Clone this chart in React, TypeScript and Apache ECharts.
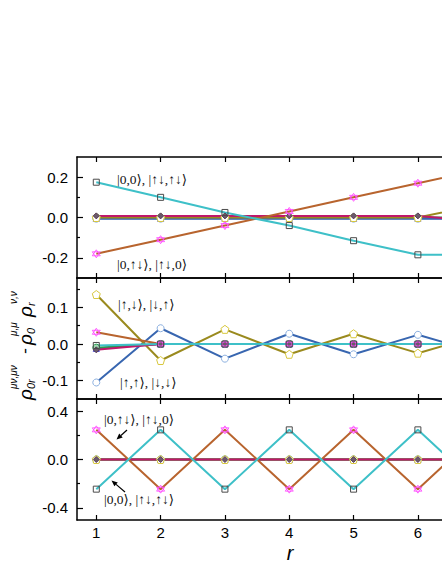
import React, { useEffect, useRef } from "react";
import * as echarts from "echarts";

// ---------- data ----------
const rValues = [1, 2, 3, 4, 5, 6, 7];
const xTicks = [1, 2, 3, 4, 5, 6, 7];
const xTickLabels = [1, 2, 3, 4, 5, 6];

// panel 1 (top)
const p1Cyan = [0.175, 0.1, 0.025, -0.04, -0.115, -0.185, -0.185];
const p1Brown = [-0.18, -0.11, -0.04, 0.03, 0.1, 0.17, 0.24];
const p1Olive = [0, 0, 0, 0, 0, 0, 0.065];
const p1Blue = [-0.006, -0.006, -0.006, -0.006, -0.006, -0.006, -0.006];
const p1Crimson = [0.008, 0.008, 0.008, 0.008, 0.008, 0.008, -0.02];
const p1Green = [0, 0, 0, 0, 0, 0, 0];
const p1Steel = [-0.004, -0.004, -0.004, -0.004, -0.004, -0.004, -0.004];

// panel 2 (middle)
const p2Cyan = [-0.004, 0, 0, 0, 0, 0, 0];
const p2Brown = [0.032, 0, 0, 0, 0, 0, 0];
const p2Olive = [0.135, -0.045, 0.04, -0.028, 0.028, -0.025, 0.025];
const p2Blue = [-0.105, 0.043, -0.04, 0.028, -0.028, 0.025, -0.025];
const p2Crimson = [-0.016, 0, 0, 0, 0, 0, 0];
const p2Green = [-0.01, 0, 0, 0, 0, 0, 0];
const p2Steel = [-0.012, 0, 0, 0, 0, 0, 0];

// panel 3 (bottom)
const p3Cyan = [-0.245, 0.245, -0.245, 0.245, -0.245, 0.245, -0.245];
const p3Brown = [0.245, -0.245, 0.245, -0.245, 0.245, -0.245, 0.245];
const p3Olive = [0, 0, 0, 0, 0, 0, 0];
const p3Blue = [0, 0, 0, 0, 0, 0, 0];
const p3Crimson = [0, 0, 0, 0, 0, 0, 0];
const p3Green = [0, 0, 0, 0, 0, 0, 0];
const p3Steel = [0, 0, 0, 0, 0, 0, 0];

const yRanges = [
  { min: -0.3, max: 0.3, major: [-0.2, 0, 0.2], minor: [-0.1, 0.1] },
  { min: -0.15, max: 0.18, major: [-0.1, 0, 0.1], minor: [-0.05, 0.05, 0.15] },
  { min: -0.5, max: 0.5, major: [-0.4, 0, 0.4], minor: [-0.2, 0.2] },
];

const labels = [
  { text: "|0,0⟩, |↑↓,↑↓⟩", x: 117, y: 179 },
  { text: "|0,↑↓⟩, |↑↓,0⟩", x: 117, y: 264 },
  { text: "|↑,↓⟩, |↓,↑⟩", x: 118, y: 304 },
  { text: "|↑,↑⟩, |↓,↓⟩", x: 120, y: 382 },
  { text: "|0,↑↓⟩, |↑↓,0⟩", x: 104, y: 419 },
  { text: "|0,0⟩, |↑↓,↑↓⟩", x: 104, y: 499 },
];

// ---------- styles ----------
const STAR = "path://M0,-10L8.66,5L-8.66,5Z M0,10L8.66,-5L-8.66,-5Z";
const PENTA = "path://M0,-10L9.51,-3.09L5.88,8.09L-5.88,8.09L-9.51,-3.09Z";

const styles = {
  steel: { color: "#4f6fb8", symbol: "triangle", size: 6, border: "#3a3ad8", fill: "rgba(255,255,255,0)" },
  green: { color: "#2a9a52", symbol: "circle", size: 7, border: "#2a9a52", fill: "#9fd8b0" },
  crimson: { color: "#c0186a", symbol: "diamond", size: 6, border: "#5a3a5a", fill: "#6a5a6a" },
  blue: { color: "#3866b0", symbol: "circle", size: 7, border: "#8cb0e0", fill: "#ffffff" },
  olive: { color: "#9a8a1e", symbol: PENTA, size: 8, border: "#d8c83e", fill: "#ffffff" },
  brown: { color: "#b8642e", symbol: STAR, size: 8, border: "#ff3cff", fill: "rgba(255,235,255,0.5)" },
  cyan: { color: "#3ec0c8", symbol: "rect", size: 6, border: "#4a4a4a", fill: "rgba(255,255,255,0)" },
};

const panels = [
  { steel: p1Steel, green: p1Green, crimson: p1Crimson, blue: p1Blue, olive: p1Olive, brown: p1Brown, cyan: p1Cyan },
  { steel: p2Steel, green: p2Green, crimson: p2Crimson, blue: p2Blue, olive: p2Olive, brown: p2Brown, cyan: p2Cyan },
  { steel: p3Steel, green: p3Green, crimson: p3Crimson, blue: p3Blue, olive: p3Olive, brown: p3Brown, cyan: p3Cyan },
];
const order = ["steel", "green", "blue", "olive", "crimson", "brown", "cyan"];

function arrow(x1: number, y1: number, x2: number, y2: number) {
  const dx = x2 - x1, dy = y2 - y1;
  const L = Math.hypot(dx, dy);
  const ux = dx / L, uy = dy / L;
  const hl = 6, hw = 2.6;
  const bx = x2 - ux * hl, by = y2 - uy * hl;
  return [
    { type: "line", shape: { x1, y1, x2: bx, y2: by }, style: { stroke: "#000", lineWidth: 1.2 } },
    {
      type: "polygon",
      shape: { points: [[x2, y2], [bx - uy * hw, by + ux * hw], [bx + uy * hw, by - ux * hw]] },
      style: { fill: "#000" },
    },
  ];
}

export default function App() {
  const ref = useRef<HTMLDivElement>(null);
  useEffect(() => {
    if (!ref.current) return;
    const chart = echarts.init(ref.current, null, { renderer: "svg" });
    const gridTops = [157, 278, 399];
    const grid = gridTops.map((t) => ({
      left: 77, top: t, width: 424.5, height: 121, containLabel: false, outerBoundsMode: "none",
    }));
    const axisLine = { show: true, onZero: false, lineStyle: { color: "#000", width: 1.5 } };
    const tickLine = { color: "#000", width: 1.2 };
    const labelFont = { color: "#000", fontSize: 15, fontFamily: "Liberation Sans, Arial, sans-serif" };

    const xAxis: any[] = [];
    const yAxis: any[] = [];
    gridTops.forEach((_, i) => {
      xAxis.push({
        type: "value", gridIndex: i, min: 0.7, max: 7.3, position: "bottom",
        axisLine, splitLine: { show: false },
        axisTick: { show: true, inside: true, length: 5, customValues: xTicks, lineStyle: tickLine },
        axisLabel: { show: i === 2, customValues: xTickLabels, margin: 5, ...labelFont },
      });
      xAxis.push({
        type: "value", gridIndex: i, min: 0.7, max: 7.3, position: "top",
        axisLine, splitLine: { show: false },
        axisTick: { show: true, inside: true, length: 5, customValues: xTicks, lineStyle: tickLine },
        axisLabel: { show: false },
      });
      const yr = yRanges[i];
      yAxis.push({
        type: "value", gridIndex: i, min: yr.min, max: yr.max, position: "left",
        axisLine, splitLine: { show: false },
        axisTick: { show: true, inside: true, length: 6, customValues: yr.major, lineStyle: tickLine },
        axisLabel: { show: true, customValues: yr.major, margin: 9, formatter: (v: number) => v.toFixed(1), ...labelFont },
      });
      yAxis.push({
        type: "value", gridIndex: i, min: yr.min, max: yr.max, position: "left",
        axisLine: { show: false, onZero: false }, splitLine: { show: false },
        axisTick: { show: true, inside: true, length: 3, customValues: yr.minor, lineStyle: tickLine },
        axisLabel: { show: false },
      });
    });

    const series: any[] = [];
    panels.forEach((p: any, i) => {
      order.forEach((k) => {
        const s = (styles as any)[k];
        series.push({
          type: "line", xAxisIndex: i * 2, yAxisIndex: i * 2,
          data: rValues.map((r, j) => [r, p[k][j]]),
          symbol: s.symbol, symbolSize: s.size, showSymbol: true,
          lineStyle: { color: s.color, width: 2 },
          itemStyle: { color: s.fill, borderColor: s.border, borderWidth: k === "brown" ? 0.8 : 1 },
          clip: true, silent: true,
        });
      });
    });

    const serif = '13.5px "Liberation Serif", "DejaVu Serif", serif';
    const sub = (t: string, x: number, y: number, size: number) => ({
      type: "text", x, y,
      style: { text: t, font: `italic ${size}px "Liberation Sans", Arial, sans-serif`, fill: "#000", textVerticalAlign: "middle" },
    });
    const graphic: any[] = [
      ...labels.map((l) => ({
        type: "text", x: l.x, y: l.y,
        style: { text: l.text, font: serif, fill: "#111", textVerticalAlign: "middle" },
      })),
      ...arrow(127, 430, 116.5, 439.5),
      ...arrow(125, 492, 111.5, 480.5),
      {
        type: "text", x: 290, y: 553,
        style: { text: "r", font: 'italic 20px "Liberation Sans", Arial, sans-serif', fill: "#000", textAlign: "center", textVerticalAlign: "middle" },
      },
      {
        type: "group", x: 25, y: 400, rotation: Math.PI / 2,
        children: [
          sub("ρ", 0, 0, 19),
          sub("0r", 11, 6, 11),
          sub("μν,μν", 11, -12, 10),
          sub("-", 46, -1, 17),
          sub("ρ", 55, 0, 19),
          sub("0", 66, 6, 11),
          sub("μ,μ", 64, -12, 10),
          sub("ρ", 83, 0, 19),
          sub("r", 94, 6, 11),
          sub("ν,ν", 96, -12, 10),
        ],
      },
    ];

    chart.setOption({ animation: false, grid, xAxis, yAxis, series, graphic });
    return () => chart.dispose();
  }, []);
  return (
    <div
      ref={ref}
      style={{ position: "fixed", left: 0, top: 0, width: 442, height: 571, overflow: "hidden", background: "#fff" }}
    />
  );
}
